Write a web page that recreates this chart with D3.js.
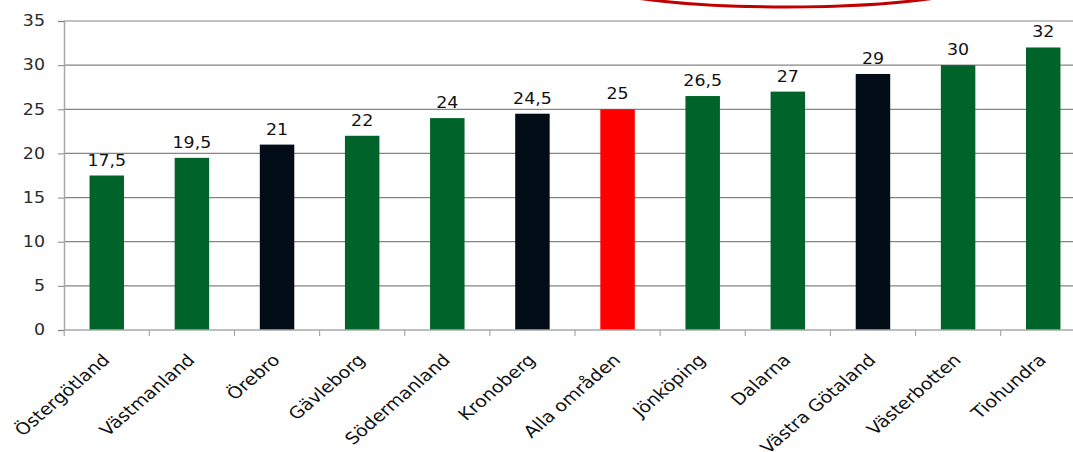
<!DOCTYPE html>
<html>
<head>
<meta charset="utf-8">
<script src="https://cdn.jsdelivr.net/npm/d3@7"></script>
<style>
  body { margin: 0; background: #fff; }
  svg { display: block; font-family: "DejaVu Sans", Verdana, sans-serif; }
</style>
</head>
<body>
<svg id="chart" width="1073" height="452"></svg>
<script>
const regions = ["Östergötland", "Västmanland", "Örebro", "Gävleborg", "Södermanland", "Kronoberg",
  "Alla områden", "Jönköping", "Dalarna", "Västra Götaland", "Västerbotten", "Tiohundra"];
const values = [17.5, 19.5, 21, 22, 24, 24.5, 25, 26.5, 27, 29, 30, 32];
const groups = ["g", "g", "b", "g", "g", "b", "r", "g", "g", "b", "g", "g"];
const yTicks = [0, 5, 10, 15, 20, 25, 30, 35];

const colors = { g: "#00632a", b: "#020d17", r: "#ff0000" };
const fmt = d3.format(".1~f");
const stretch = 1.16; // the original picture is widened, text included

const svg = d3.select("#chart");
const x = d3.scaleBand().domain(regions).range([64, 1086]).paddingInner(0.595).paddingOuter(0.3);
const y = d3.scaleLinear().domain([0, 35]).range([330, 21]);

// gridlines
svg.append("g")
  .selectAll("line")
  .data(yTicks.filter(d => d > 0))
  .enter()
  .append("line")
  .attr("x1", 64).attr("x2", 1073)
  .attr("y1", d => y(d)).attr("y2", d => y(d))
  .attr("stroke", "#858585")
  .attr("stroke-width", 1.2);

// y axis
const yAxis = svg.append("g")
  .attr("transform", "translate(64,0)")
  .call(d3.axisLeft(y).tickValues(yTicks).tickSize(6).tickFormat(""));
yAxis.select(".domain").attr("stroke", "#a8a8a8").attr("stroke-width", 1.5);
yAxis.selectAll(".tick line").attr("stroke", "#858585");

svg.append("g")
  .selectAll("text")
  .data(yTicks)
  .enter()
  .append("text")
  .attr("transform", d => `translate(45,${y(d)}) scale(${stretch},1)`)
  .attr("text-anchor", "end")
  .attr("dy", "0.35em")
  .attr("font-size", 15)
  .attr("fill", "#2a2a2a")
  .text(d => d);

// bars
svg.append("g")
  .selectAll("rect")
  .data(regions)
  .enter()
  .append("rect")
  .attr("x", d => x(d))
  .attr("y", (d, i) => y(values[i]))
  .attr("width", x.bandwidth())
  .attr("height", (d, i) => y(0) - y(values[i]))
  .attr("fill", (d, i) => colors[groups[i]]);

// value labels
svg.append("g")
  .selectAll("text")
  .data(regions)
  .enter()
  .append("text")
  .attr("transform", (d, i) => `translate(${x(d) + x.bandwidth() / 2},${y(values[i]) - 10}) scale(${stretch},1)`)
  .attr("text-anchor", "middle")
  .attr("font-size", 15)
  .attr("fill", "#111")
  .text((d, i) => fmt(values[i]).replace(".", ","));

// x axis
const step = x.step();
const xAxis = svg.append("g");
xAxis.append("line")
  .attr("x1", 64).attr("x2", 1073)
  .attr("y1", y(0)).attr("y2", y(0))
  .attr("stroke", "#a8a8a8").attr("stroke-width", 1.5);
xAxis.selectAll("line.tick")
  .data(regions)
  .enter()
  .append("line")
  .attr("class", "tick")
  .attr("x1", d => x(d) + x.bandwidth() / 2 - step / 2)
  .attr("x2", d => x(d) + x.bandwidth() / 2 - step / 2)
  .attr("y1", y(0)).attr("y2", y(0) + 6)
  .attr("stroke", "#a8a8a8").attr("stroke-width", 1.2);

xAxis.selectAll("text")
  .data(regions)
  .enter()
  .append("text")
  .attr("transform", d => `translate(${x(d) + x.bandwidth() / 2 + 4},${y(0) + 31}) scale(${stretch},1) rotate(-45)`)
  .attr("text-anchor", "end")
  .attr("font-size", 16.5)
  .attr("fill", "#111")
  .text(d => d);

// red highlight ellipse cut off at the top
svg.append("ellipse")
  .attr("cx", 786).attr("cy", -24)
  .attr("rx", 212).attr("ry", 31)
  .attr("fill", "none")
  .attr("stroke", "#c00000")
  .attr("stroke-width", 3);
</script>
</body>
</html>
